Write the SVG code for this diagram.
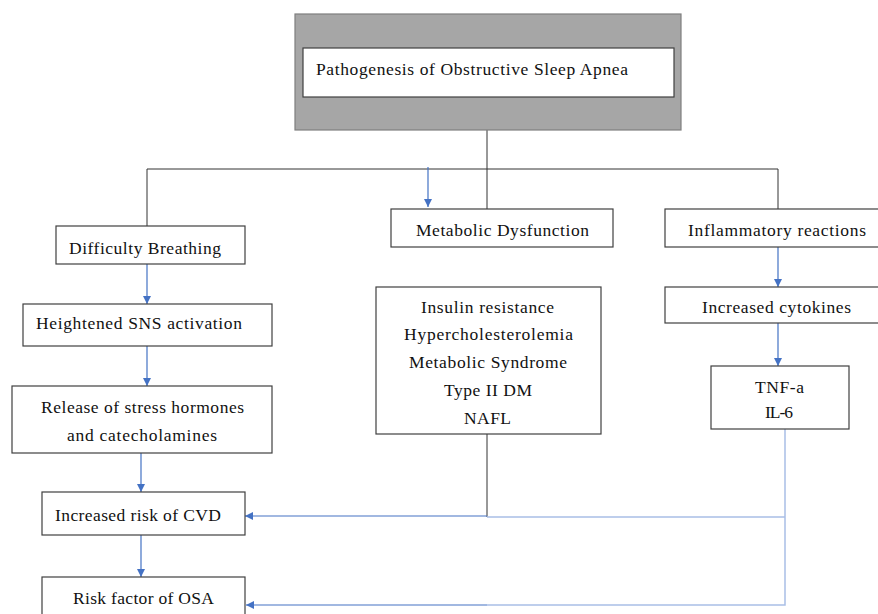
<svg xmlns="http://www.w3.org/2000/svg" width="878" height="614" viewBox="0 0 878 614">
<defs>
<marker id="ah" viewBox="0 0 10 10" refX="10" refY="5" markerWidth="8" markerHeight="8" markerUnits="userSpaceOnUse" orient="auto"><path d="M0,0 L10,5 L0,10 z" fill="#4472c4"/></marker>
</defs>
<style>
.box{fill:#ffffff;stroke:#404040;stroke-width:1.2}
.t{font-family:"Liberation Serif","Times New Roman",serif;font-size:17.5px;fill:#111}
.c{text-anchor:middle}
.k{fill:none;stroke:#333;stroke-width:1}
.b{fill:none;stroke:#4472c4;stroke-width:1.2}
.lb{fill:none;stroke:#a9bfe6;stroke-width:1.5}
</style>
<rect width="878" height="614" fill="#ffffff"/>
<g id="connectors">
<path class="k" d="M487,130 V209 M147,169 H778 M147,169 V226 M778,169 V209"/>
<path class="k" d="M487,434 V517"/>
<path class="b" d="M428,167 V207" marker-end="url(#ah)"/>
<path class="b" d="M778,247 V287" marker-end="url(#ah)"/>
<path class="b" d="M778,323 V366" marker-end="url(#ah)"/>
<path class="b" d="M147,264 V304" marker-end="url(#ah)"/>
<path class="b" d="M147,346 V386" marker-end="url(#ah)"/>
<path class="b" d="M141,453 V492" marker-end="url(#ah)"/>
<path class="b" d="M141,535 V577" marker-end="url(#ah)"/>
<path class="lb" d="M785,429 V605 H487 M785,517 H487"/>
<path class="b" d="M487,516 H245" marker-end="url(#ah)"/>
<path class="b" d="M487,605 H246" marker-end="url(#ah)"/>
</g>
<g id="title">
<rect x="295" y="14" width="386" height="116" fill="#a6a6a6" stroke="#7f7f7f" stroke-width="1.2"/>
<rect class="box" x="303" y="48" width="371" height="49"/>
<text class="t" x="316" y="75" textLength="312" lengthAdjust="spacing">Pathogenesis of Obstructive Sleep Apnea</text>
</g>
<g id="difficulty">
<rect class="box" x="56" y="226" width="189" height="38"/>
<text class="t" x="69" y="254" textLength="152" lengthAdjust="spacing">Difficulty Breathing</text>
</g>
<g id="metabolic">
<rect class="box" x="391" y="209" width="222" height="38"/>
<text class="t" x="416" y="236" textLength="173" lengthAdjust="spacing">Metabolic Dysfunction</text>
</g>
<g id="inflammatory">
<rect class="box" x="665" y="209" width="220" height="38"/>
<text class="t" x="688" y="236" textLength="178" lengthAdjust="spacing">Inflammatory reactions</text>
</g>
<g id="sns">
<rect class="box" x="23" y="304" width="249" height="42"/>
<text class="t" x="36" y="329" textLength="206" lengthAdjust="spacing">Heightened SNS activation</text>
</g>
<g id="release">
<rect class="box" x="12" y="386" width="260" height="67"/>
<text class="t" x="41" y="413" textLength="203" lengthAdjust="spacing">Release of stress hormones</text>
<text class="t" x="67" y="441" textLength="150" lengthAdjust="spacing">and catecholamines</text>
</g>
<g id="cvd">
<rect class="box" x="42" y="492" width="203" height="43"/>
<text class="t" x="55" y="521" textLength="166" lengthAdjust="spacing">Increased risk of CVD</text>
</g>
<g id="osa">
<rect class="box" x="42" y="577" width="203" height="50"/>
<text class="t" x="73" y="604" textLength="141" lengthAdjust="spacing">Risk factor of OSA</text>
</g>
<g id="metlist">
<rect class="box" x="376" y="287" width="225" height="147"/>
<text class="t" x="421" y="313" textLength="133" lengthAdjust="spacing">Insulin resistance</text>
<text class="t" x="404" y="340" textLength="169" lengthAdjust="spacing">Hypercholesterolemia</text>
<text class="t" x="409" y="368" textLength="158" lengthAdjust="spacing">Metabolic Syndrome</text>
<text class="t" x="444" y="396" textLength="88" lengthAdjust="spacing">Type II DM</text>
<text class="t" x="464" y="424" textLength="47" lengthAdjust="spacing">NAFL</text>
</g>
<g id="cytokines">
<rect class="box" x="665" y="287" width="220" height="36"/>
<text class="t" x="702" y="313" textLength="149" lengthAdjust="spacing">Increased cytokines</text>
</g>
<g id="tnf">
<rect class="box" x="711" y="366" width="138" height="63"/>
<text class="t" x="755" y="393" textLength="49" lengthAdjust="spacing">TNF-a</text>
<text class="t" x="765" y="418" textLength="28" lengthAdjust="spacing">IL-6</text>
</g>
</svg>
